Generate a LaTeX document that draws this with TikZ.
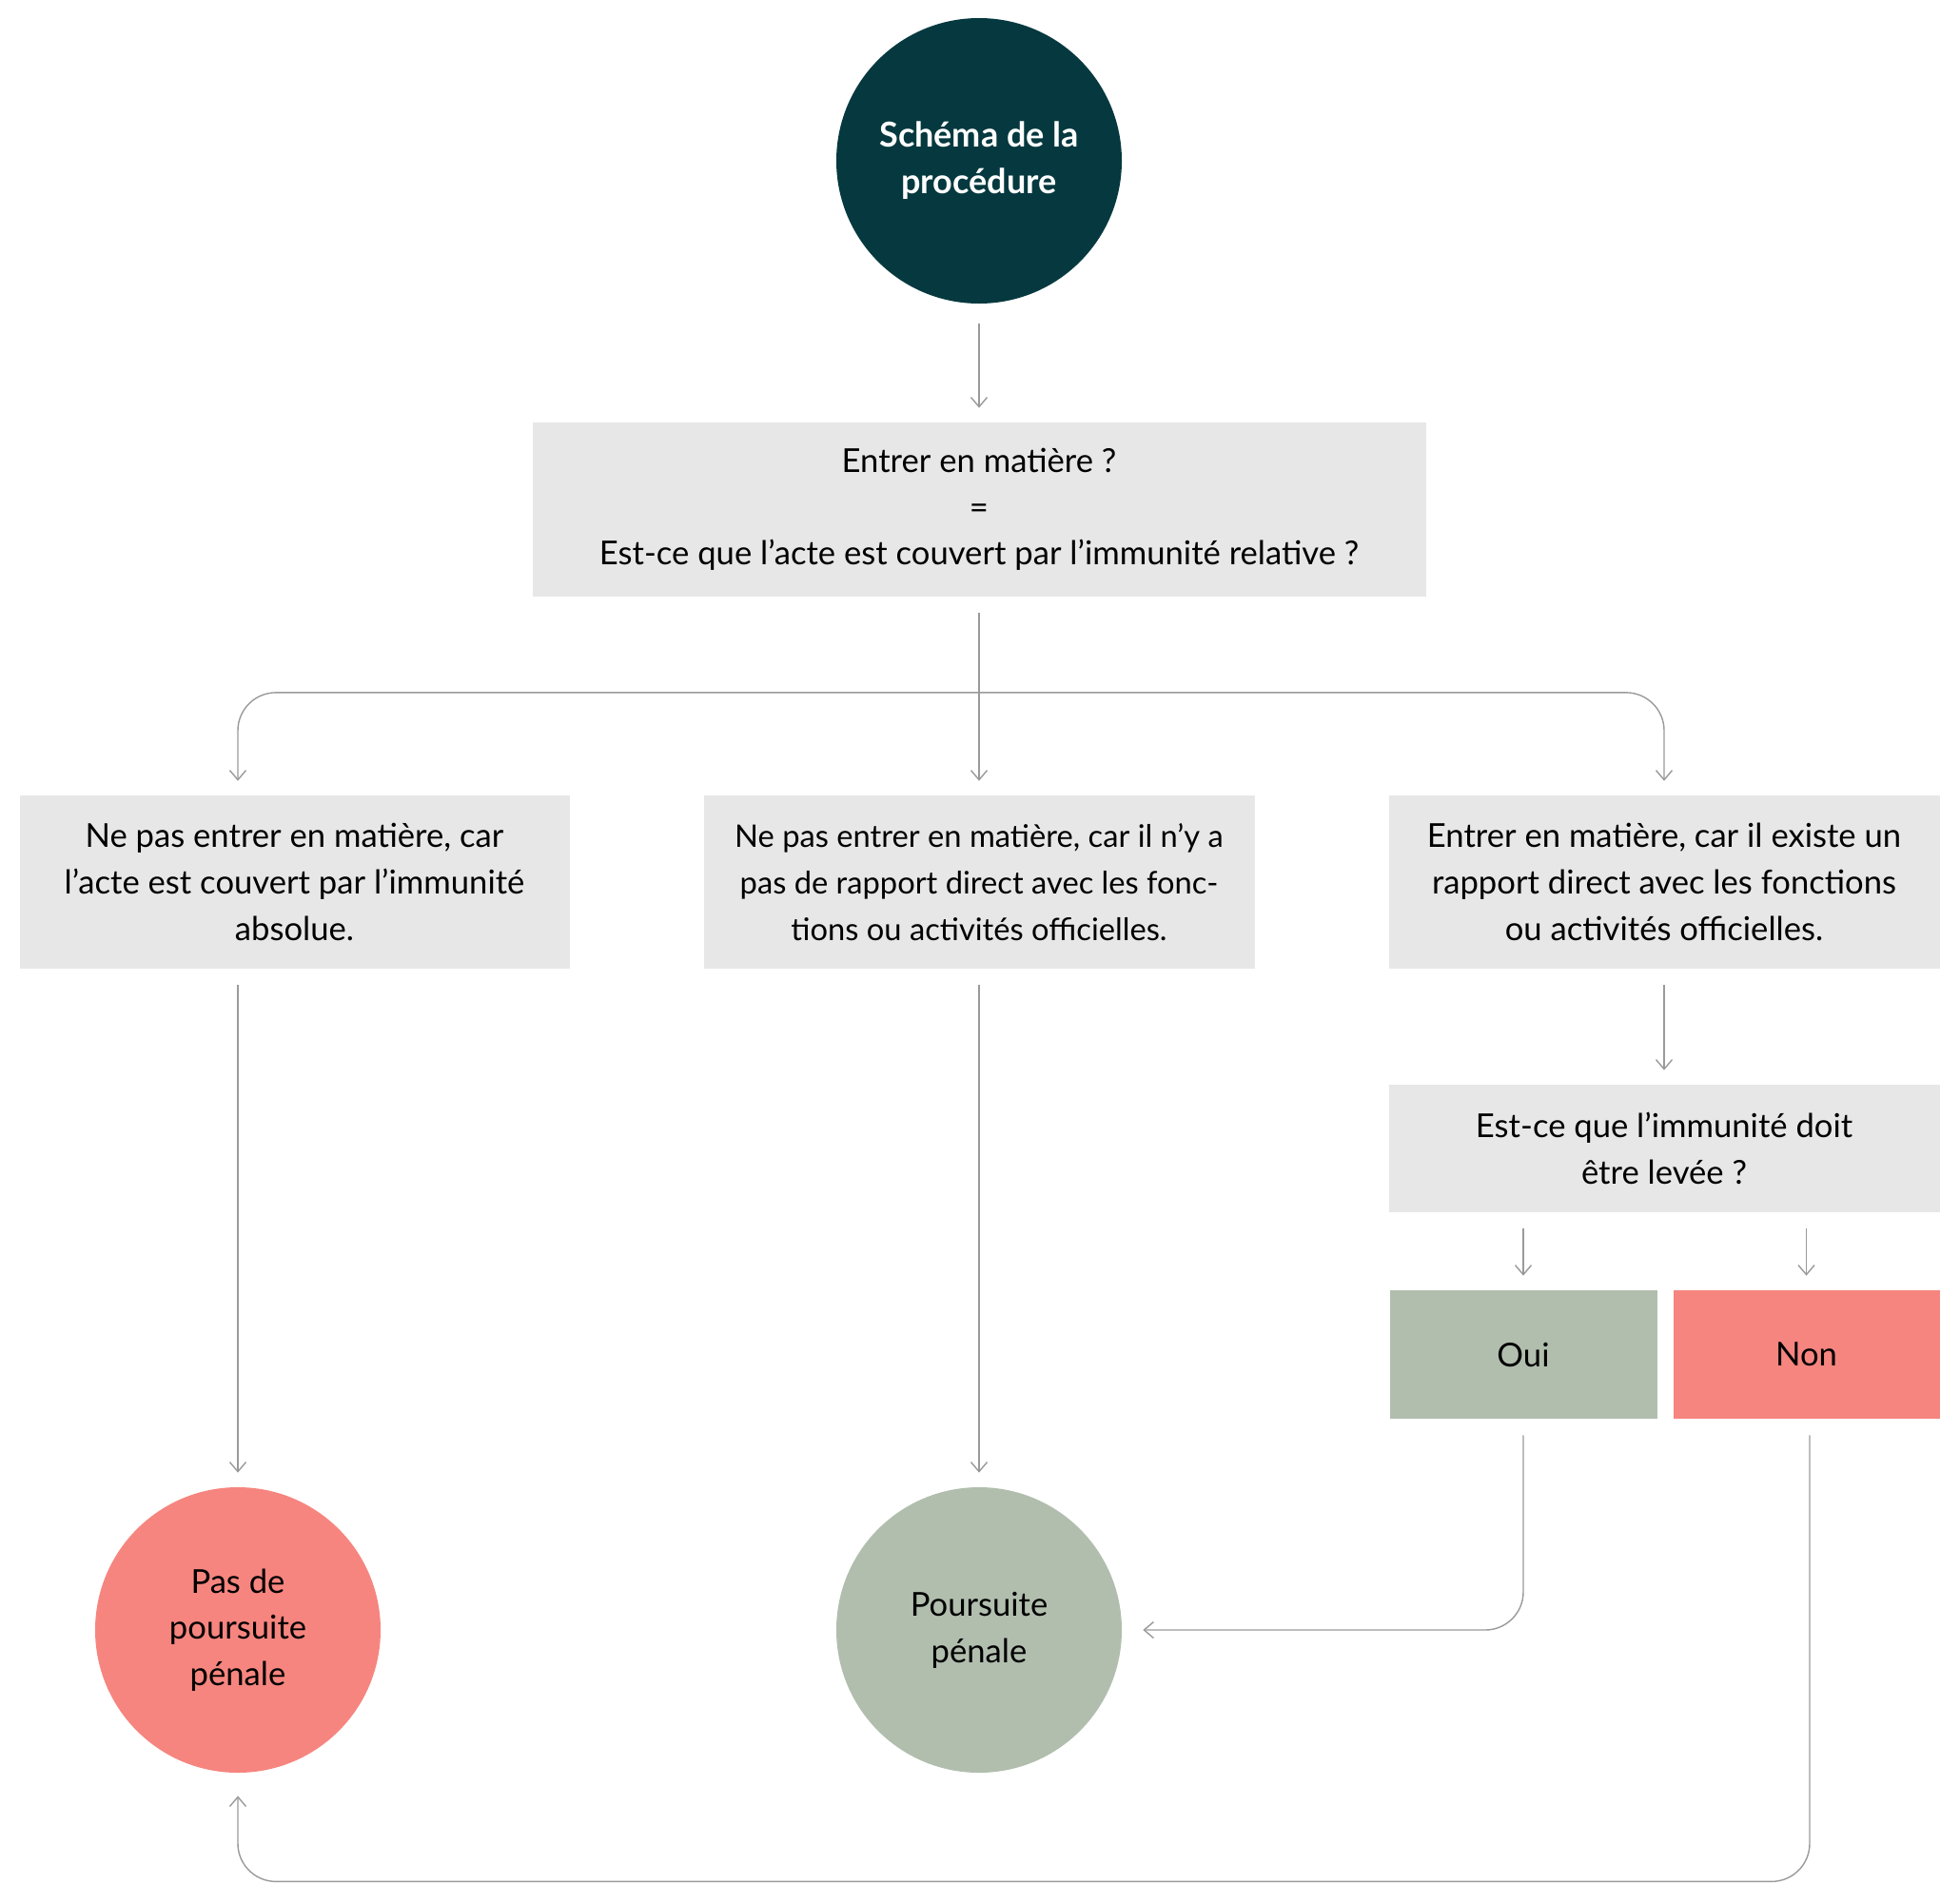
\documentclass[tikz,border=0pt]{standalone}
\usepackage{fontspec}
\setmainfont{Lato}
\usepackage{tikz}
\usetikzlibrary{positioning}
\usetikzlibrary{calc,arrows.meta}

\definecolor{Petrol}{HTML}{05393F}
\definecolor{BoxGrey}{HTML}{E7E7E7}
\definecolor{Sage}{HTML}{B1BEAE}
\definecolor{Salmon}{HTML}{F6857F}
\definecolor{LinkGrey}{HTML}{9A9A9A}

\tikzset{
	greybox/.style={fill=BoxGrey, minimum width=11.58cm, minimum height=3.64cm, inner sep=0pt, align=center},
	disc/.style={circle, minimum size=6cm, inner sep=0pt, align=center},
	link/.style={draw=LinkGrey, line width=0.8pt, rounded corners=0.8cm,
		-{Straight Barb[length=2mm, width=3.4mm]}, shorten <=0.34cm, shorten >=0.3cm},
}

\begin{document}
\begin{tikzpicture}[every node/.style={font=\fontsize{19.7}{27.7}\selectfont}]

	% ------------------------------------------------
	% Ensure the dimensions of graphic are appropriate
	\useasboundingbox (0,0) rectangle (41.2,-40);

	% ------------------------------------------------
	% Relevant coordinates
	\coordinate (Top) at (20.58,-3.38);

	\path (Top)   +(0.00,-7.33)  coordinate (AskPos);
	\path (AskPos) +(0.00,-7.83) coordinate (MidPos);
	\path (MidPos) +(-14.39,0.00) coordinate (LeftPos);
	\path (MidPos) +(14.40,0.00)  coordinate (RightPos);
	\path (RightPos) +(0.00,-5.60) coordinate (LiftPos);
	\path (LiftPos)  +(-2.96,-4.33) coordinate (OuiPos);
	\path (LiftPos)  +(2.99,-4.33)  coordinate (NonPos);
	\path (Top)   +(-15.58,-30.88) coordinate (PasPos);
	\path (Top)   +(0.00,-30.88)   coordinate (PoursPos);

	% ----------------
	% Nodes
	\node[disc, fill=Petrol, text=white, font=\fontsize{20.5}{28}\selectfont\bfseries] (Schema) at (Top)
		{Schéma de la\\procédure};

	\node[greybox, minimum width=18.78cm, minimum height=3.66cm] (Ask) at (AskPos)
		{Entrer en matière ?\\=\\Est-ce que l’acte est couvert par l’immunité relative ?};

	\node[greybox, minimum width=11.56cm] (Absolue) at (LeftPos)
		{Ne pas entrer en matière, car\\l’acte est couvert par l’immunité\\absolue.};
	\node[greybox, font=\fontsize{18.6}{27.7}\selectfont] (SansRapport) at (MidPos)
		{Ne pas entrer en matière, car il n’y a\\pas de rapport direct avec les fonc-\\tions ou activités officielles.};
	\node[greybox] (Rapport) at (RightPos)
		{Entrer en matière, car il existe un\\rapport direct avec les fonctions\\ou activités officielles.};

	\node[greybox, minimum height=2.68cm] (Lever) at (LiftPos)
		{Est-ce que l’immunité doit\\être levée ?};

	\node[fill=Sage, minimum width=5.62cm, minimum height=2.70cm, inner sep=0pt] (Oui) at (OuiPos) {Oui};
	\node[fill=Salmon, minimum width=5.60cm, minimum height=2.70cm, inner sep=0pt] (Non) at (NonPos) {Non};

	\node[disc, fill=Salmon] (Pas) at (PasPos) {Pas de\\poursuite\\pénale};
	\node[disc, fill=Sage] (Poursuite) at (PoursPos) {Poursuite\\pénale};

	% ----------------
	% Connectors
	\coordinate (Split) at ($(Ask.south)+(0,-2.01)$);
	\coordinate (Loop) at ($(Pas.south)+(0,-2.28)$);

	\draw[link, shorten <=0.42cm] (Schema) -- (Ask);
	\draw[link] (Ask) -- (SansRapport);
	\draw[link, shorten <=0pt] (Split) -| (Absolue.north -| Pas.north);
	\draw[link, shorten <=0pt] (Split) -| (Rapport.north);

	\draw[link] (Absolue.south -| Pas.north) -- (Pas.north);
	\draw[link] (SansRapport) -- (Poursuite);
	\draw[link] (Rapport) -- (Lever);
	\draw[link] (Lever.south -| Oui.north) -- (Oui);
	\draw[link] (Lever.south -| Non.north) -- (Non);

	\draw[link, shorten >=0.44cm] (Oui.south) |- (Poursuite.east);
	\draw[link, shorten >=0.48cm] ($(Non.south)+(0.07,0)$) |- (Loop) -- (Pas.south);

\end{tikzpicture}
\end{document}
